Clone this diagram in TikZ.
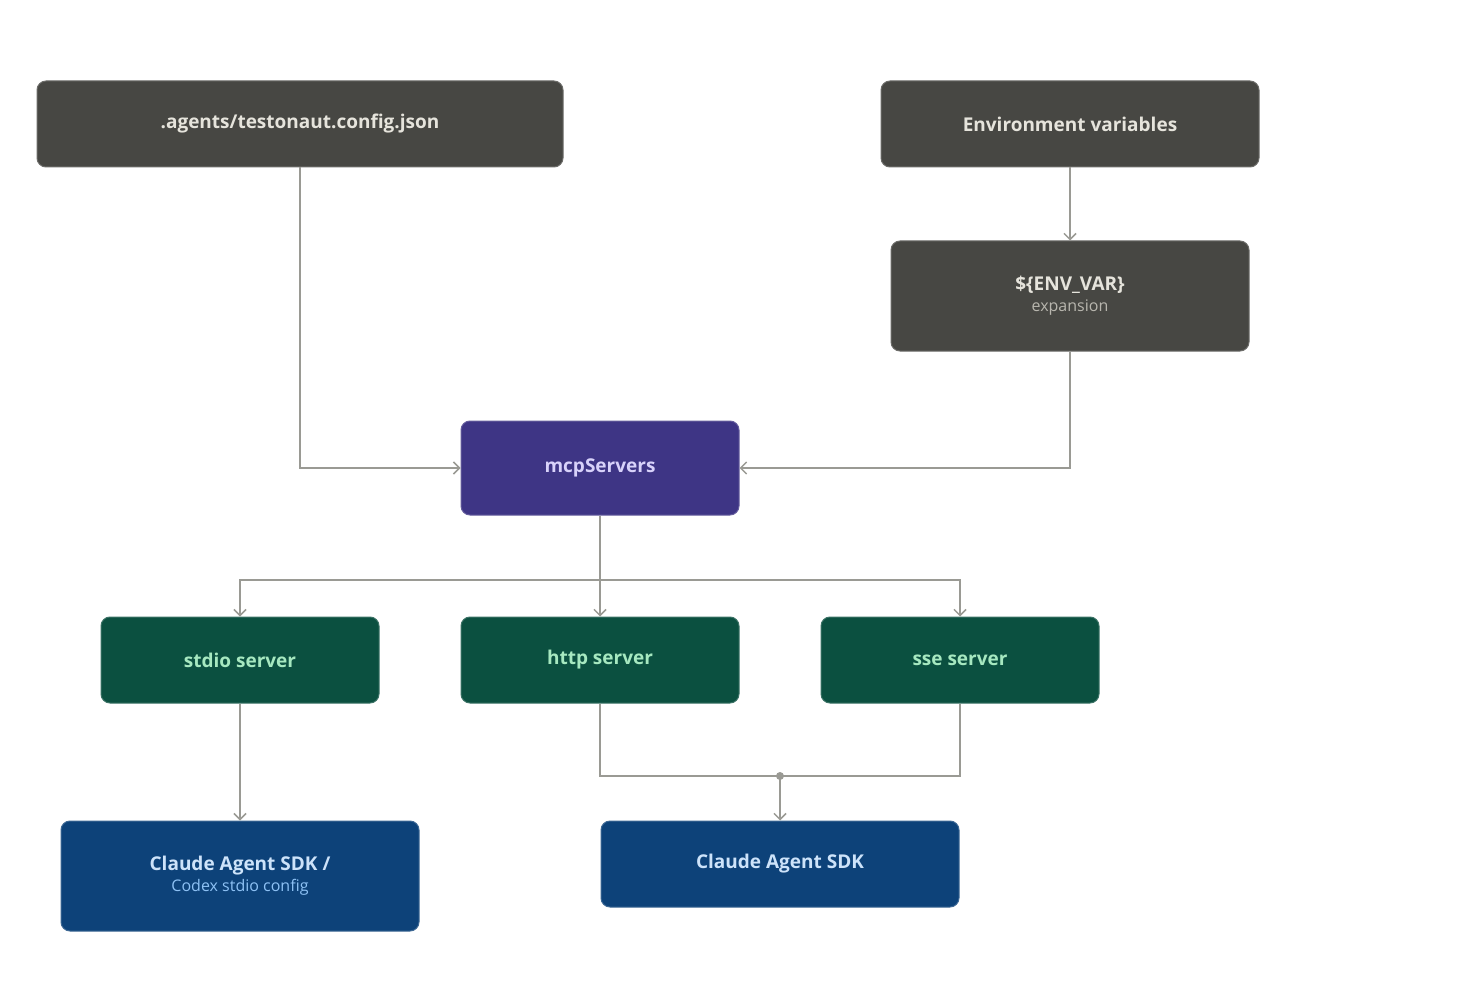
\documentclass[tikz,border=0pt]{standalone}
\usepackage{fontspec}
\setmainfont{Open Sans}
\usetikzlibrary{arrows.meta}
\definecolor{dk}{HTML}{474743}
\definecolor{dktx}{HTML}{E6E4DC}
\definecolor{dksub}{HTML}{B8B6AE}
\definecolor{pu}{HTML}{3E3585}
\definecolor{putx}{HTML}{D8D2FA}
\definecolor{gr}{HTML}{0B5040}
\definecolor{grtx}{HTML}{A6E8C0}
\definecolor{bl}{HTML}{0D4279}
\definecolor{bltx}{HTML}{CDE3FA}
\definecolor{blsub}{HTML}{8EC2F5}
\definecolor{ln}{HTML}{9A9A94}
\begin{document}
\begin{tikzpicture}[x=1pt,y=-1pt,
 box/.style={rounded corners=9pt,draw=#1!80!white,line width=1pt,fill=#1,inner sep=0pt,font=\fontsize{19}{23}\selectfont\bfseries},
 conn/.style={draw=ln,line width=2pt,-{Straight Barb[length=6pt,width=12pt,line width=1.5pt]}},
 plain/.style={draw=ln,line width=2pt}]
\useasboundingbox (0,0) rectangle (1472,1000);
\node[box=dk,minimum width=526pt,minimum height=86pt,text=dktx] (cfg) at (300,124) {.agents/testonaut.config.json};
\node[box=dk,minimum width=378pt,minimum height=86pt,text=dktx] (env) at (1070,124) {Environment variables};
\node[box=dk,minimum width=358pt,minimum height=110pt,text=dktx,align=center] (ev) at (1070,296) {\$\{ENV\_VAR\}\\[-2pt]{\fontsize{16}{20}\selectfont\mdseries\color{dksub}expansion}};
\node[box=pu,minimum width=278pt,minimum height=94pt,text=putx] (mcp) at (600,468) {mcpServers};
\node[box=gr,minimum width=278pt,minimum height=86pt,text=grtx] (st) at (240,660) {stdio server};
\node[box=gr,minimum width=278pt,minimum height=86pt,text=grtx] (ht) at (600,660) {http server};
\node[box=gr,minimum width=278pt,minimum height=86pt,text=grtx] (ss) at (960,660) {sse server};
\node[box=bl,minimum width=358pt,minimum height=110pt,text=bltx,align=center] (s1) at (240,876) {Claude Agent SDK /\\[-2pt]{\fontsize{16}{20}\selectfont\mdseries\color{blsub}Codex stdio config}};
\node[box=bl,minimum width=358pt,minimum height=86pt,text=bltx] (s2) at (780,864) {Claude Agent SDK};
\coordinate (j) at (780,776);
\draw[conn] (cfg.south) |- (mcp.west);
\draw[conn] (env) -- (ev);
\draw[conn] (ev.south) |- (mcp.east);
\draw[conn] (mcp) -- (ht);
\draw[conn] (mcp.south) -- (600,580) -| (st.north);
\draw[conn] (mcp.south) -- (600,580) -| (ss.north);
\draw[conn] (st) -- (s1);
\draw[plain] (ht.south) |- (j);
\draw[plain] (ss.south) |- (j);
\draw[conn] (j) -- (s2);
\fill[ln] (j) circle (4pt);
\end{tikzpicture}
\end{document}
